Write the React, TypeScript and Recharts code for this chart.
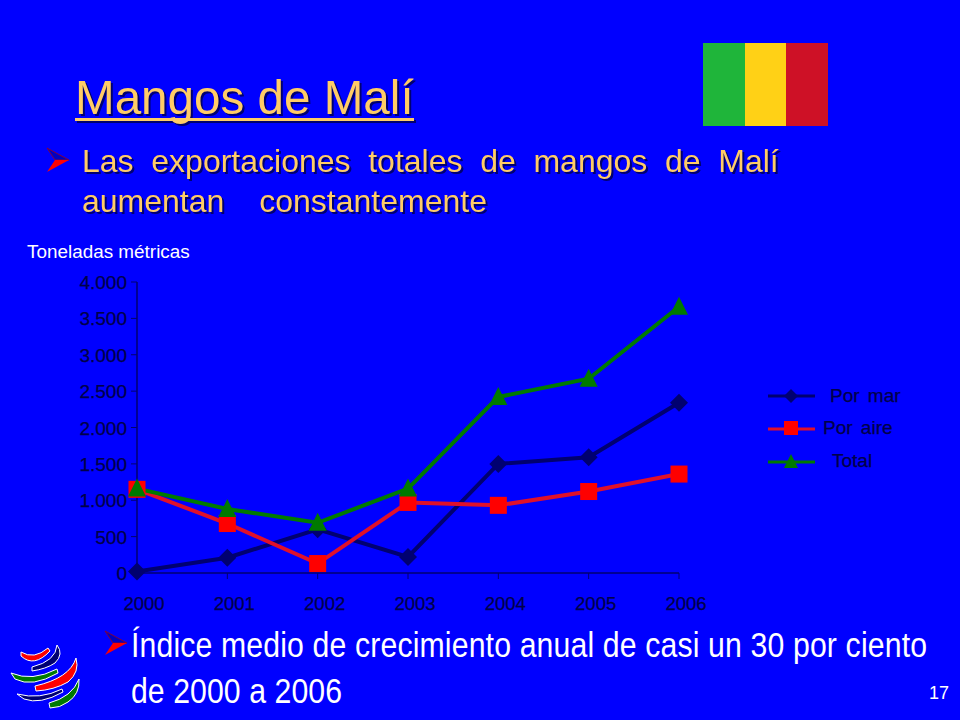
import React from "react";
import { LineChart, Line, XAxis, YAxis, Legend } from "recharts";

const years = ["2000", "2001", "2002", "2003", "2004", "2005", "2006"];
const porMar = [20, 210, 600, 220, 1500, 1590, 2340];
const porAire = [1150, 680, 130, 970, 930, 1120, 1360];
const total = [1160, 880, 690, 1160, 2420, 2670, 3660];
const yTicks = [0, 500, 1000, 1500, 2000, 2500, 3000, 3500, 4000];

const NAVY = "#000070";
const INK = "#000048";
const RED = "#FF0000";
const REDLINE = "#E0102A";
const GREEN = "#007A00";
const SANS = "'Liberation Sans', Arial, sans-serif";

const data = years.map((year, i) => ({ year, mar: porMar[i], aire: porAire[i], total: total[i] }));

const fmt = (v: number) => String(v).replace(/\B(?=(\d{3})+$)/g, ".");

const Diamond = ({ cx, cy, s = 9 }: any) => (
  <polygon points={`${cx},${cy - s} ${cx + s},${cy} ${cx},${cy + s} ${cx - s},${cy}`} fill={NAVY} />
);
const Square = ({ cx, cy, s = 8.5 }: any) => (
  <rect x={cx - s} y={cy - s} width={2 * s} height={2 * s} fill={RED} />
);
const Triangle = ({ cx, cy, s = 9 }: any) => (
  <polygon points={`${cx},${cy - s - 1} ${cx + s},${cy + s - 1} ${cx - s},${cy + s - 1}`} fill={GREEN} />
);

const legendDx = [62, 55, 64];
const legendGlyph = [Diamond, Square, Triangle];
const legendSize = [7, 7, 7];

const LegendContent = ({ payload }: any) => (
  <svg width={190} height={100} style={{ display: "block" }}>
    {(payload || []).map((p: any, i: number) => {
      const y = 16 + i * 33;
      const G = legendGlyph[i];
      return (
        <g key={p.value}>
          <line x1={0} x2={47} y1={y} y2={y} stroke={p.color} strokeWidth={3} />
          <G cx={23} cy={y - (i === 1 ? 1 : 0)} s={legendSize[i]} />
          <text
            x={legendDx[i]}
            y={y + 6 - (i === 0 ? 0 : 1)}
            fontFamily={SANS}
            fontSize={19}
            fill={INK}
            stroke={INK}
            strokeWidth={0.25}
            style={{ wordSpacing: 3 }}
          >
            {p.value}
          </text>
        </g>
      );
    })}
  </svg>
);

const XTick = ({ x, y, payload }: any) => (
  <text x={x + 7} y={y + 29} textAnchor="middle" fontFamily={SANS} fontSize={18.5} fill={INK} stroke={INK} strokeWidth={0.25}>
    {payload.value}
  </text>
);
const YTick = ({ x, y, payload }: any) => (
  <text x={x - 2} y={y + 7} textAnchor="end" fontFamily={SANS} fontSize={19} fill={INK} stroke={INK} strokeWidth={0.25}>
    {fmt(payload.value)}
  </text>
);

const Arrow = ({ x, y }: { x: number; y: number }) => (
  <g transform={`translate(${x},${y})`}>
    <polygon points="0,0 22,12 8,12" fill="#0000C0" stroke="#800040" strokeWidth={1} />
    <polygon points="22,12 0,24 8,12" fill={RED} />
  </g>
);

const Crescent = ({ d, color }: { d: string; color: string }) => (
  <path d={d} fill={color} stroke="#FFFFFF" strokeWidth={1} strokeLinejoin="round" />
);

const Backdrop = () => (
  <svg width={960} height={720} style={{ position: "absolute", left: 0, top: 0 }}>
    <rect x={0} y={0} width={960} height={720} fill="#0000FF" />
    <rect x={703} y={43} width={42} height={83} fill="#1FB53A" />
    <rect x={745} y={43} width={41} height={83} fill="#FFD116" />
    <rect x={786} y={43} width={42} height={83} fill="#CE1126" />
    <g fontFamily={SANS} fill="#FFCC66" style={{ filter: "drop-shadow(2px 2px 0 #000070)" }}>
      <text x={75} y={114} fontSize={47.6}>Mangos de Malí</text>
      <rect x={75} y={118} width={339} height={3} />
      <text x={82} y={172} fontSize={32} style={{ wordSpacing: 8.8 }}>Las exportaciones totales de mangos de Malí</text>
      <text x={82} y={212} fontSize={32} style={{ wordSpacing: 26 }}>aumentan constantemente</text>
    </g>
    <Arrow x={47} y={148} />
    <Arrow x={105} y={631} />
    <text x={27} y={258} fontFamily={SANS} fontSize={18.9} fill="#FFFFFF">Toneladas métricas</text>
    <g fontFamily={SANS} fill="#FFFFFF" fontSize={36}>
      <text transform="translate(131,657) scale(0.84,1)" textLength={947.6} lengthAdjust="spacing">
        Índice medio de crecimiento anual de casi un 30 por ciento
      </text>
      <text transform="translate(131,703) scale(0.84,1)" textLength={251.2} lengthAdjust="spacing">
        de 2000 a 2006
      </text>
    </g>
    <text x={929} y={699} fontFamily={SANS} fontSize={18} fill="#FFFFFF">17</text>
    <Crescent d="M21,652 Q34,660 48,648 L50,651 Q34,668 21,656 Z" color={RED} />
    <Crescent d="M32,667 Q56,661 57,645 Q64,654 55,663 Q46,669 32,671 Z" color={NAVY} />
    <Crescent d="M11,673 Q32,682 57,669 L58,673 Q32,688 15,679 Z" color={GREEN} />
    <Crescent d="M35,686 Q70,678 76,658 Q80,672 68,682 Q54,690 36,691 Z" color={RED} />
    <Crescent d="M17,694 Q40,700 62,689 L63,692 Q40,705 24,699 Z" color={NAVY} />
    <Crescent d="M49,703 Q72,697 79,679 Q80,694 68,702 Q60,708 50,708 Z" color={GREEN} />
  </svg>
);

export default function App() {
  return (
    <div style={{ position: "absolute", left: 0, top: 0, width: 960, height: 720, overflow: "hidden" }}>
      <Backdrop />
      <div style={{ position: "absolute", left: 0, top: 0 }}>
        <LineChart width={960} height={720} data={data} margin={{ left: 77, right: 91, top: 282, bottom: 107 }}>
          <XAxis
            dataKey="year"
            height={40}
            padding={{ left: 0, right: 0 }}
            axisLine={{ stroke: NAVY, strokeWidth: 1.5 }}
            tickLine={{ stroke: NAVY, strokeWidth: 1 }}
            tickSize={6}
            interval={0}
            tick={<XTick />}
          />
          <YAxis
            width={60}
            domain={[0, 4000]}
            ticks={yTicks}
            axisLine={{ stroke: NAVY, strokeWidth: 1.5 }}
            tickLine={{ stroke: NAVY, strokeWidth: 1 }}
            tickSize={6}
            interval={0}
            tick={<YTick />}
          />
          <Legend
            layout="vertical"
            align="right"
            verticalAlign="middle"
            width={190}
            itemSorter={null}
            wrapperStyle={{ left: 768, top: 380, width: 190, height: 100 }}
            content={<LegendContent />}
          />
          <Line dataKey="mar" name="Por mar" stroke={NAVY} strokeWidth={4} dot={<Diamond />} isAnimationActive={false} />
          <Line dataKey="aire" name="Por aire" stroke={REDLINE} strokeWidth={4} dot={<Square />} isAnimationActive={false} />
          <Line dataKey="total" name="Total" stroke={GREEN} strokeWidth={4} dot={<Triangle />} isAnimationActive={false} />
        </LineChart>
      </div>
    </div>
  );
}
